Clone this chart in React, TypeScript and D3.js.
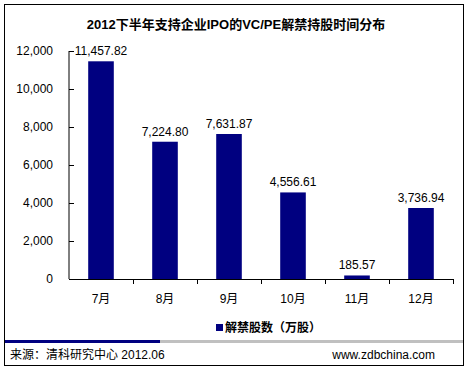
import React from 'react';
import { scaleBand, scaleLinear, format } from 'd3';

const months = ['7月', '8月', '9月', '10月', '11月', '12月'];
const values = [11457.82, 7224.8, 7631.87, 4556.61, 185.57, 3736.94];
const yTicks = [0, 2000, 4000, 6000, 8000, 10000, 12000];

const title = '2012下半年支持企业IPO的VC/PE解禁持股时间分布';
const legendLabel = '解禁股数（万股）';
const sourceText = '来源：清科研究中心 2012.06';
const siteText = 'www.zdbchina.com';

const W = 469;
const H = 369;
const font = 'Arial, "Liberation Sans", "Noto Sans CJK SC", sans-serif';
const navy = '#000080';

const App = () => {
  const left = 69;
  const right = 453;
  const top = 51;
  const bottom = 279;

  const x = scaleBand<string>().domain(months).range([left, right]).paddingInner(0.6).paddingOuter(0.3);
  const y = scaleLinear().domain([0, 12000]).range([bottom, top]);
  const fmtTick = format(',');
  const fmtVal = format(',.2f');
  const step = x.step();
  // category boundaries for the x ticks
  const bounds = months.map((_, i) => left + step * (i + 1));

  return (
    <svg width={W} height={H} style={{ position: 'absolute', left: 0, top: 0 }} fontFamily={font}>
      <rect x={0} y={0} width={W} height={H} fill="#fff" />
      <rect x={4.5} y={4.5} width={459} height={361} fill="none" stroke="#000" strokeWidth={1} />

      <text x={236} y={29} textAnchor="middle" fontSize={13} fontWeight="bold" fill="#000">
        {title}
      </text>

      {/* y axis */}
      <line x1={left} x2={left} y1={y(12000)} y2={bottom} stroke="#000" />
      {yTicks.map((t) => (
        <g key={t}>
          <line x1={left} x2={left + 5} y1={Math.round(y(t)) + 0.5} y2={Math.round(y(t)) + 0.5} stroke="#000" />
          <text x={53} y={y(t)} dy="0.35em" textAnchor="end" fontSize={12} fill="#000">
            {fmtTick(t)}
          </text>
        </g>
      ))}

      {/* bars */}
      {months.map((m, i) => (
        <g key={m}>
          <rect x={x(m)} y={y(values[i])} width={x.bandwidth()} height={bottom - y(values[i])} fill={navy} />
          <text x={(x(m) ?? 0) + x.bandwidth() / 2} y={y(values[i]) - 6} textAnchor="middle" fontSize={12} fill="#000">
            {fmtVal(values[i])}
          </text>
          <text x={left + step * (i + 0.5)} y={299} dy="0.35em" textAnchor="middle" fontSize={12} fill="#000">
            {m}
          </text>
        </g>
      ))}

      {/* x axis */}
      <line x1={left} x2={right} y1={bottom + 0.5} y2={bottom + 0.5} stroke="#000" />
      {bounds.map((b, i) => (
        <line key={i} x1={Math.round(b) + 0.5} x2={Math.round(b) + 0.5} y1={bottom} y2={bottom + 5} stroke="#000" />
      ))}

      {/* legend */}
      <rect x={216} y={324} width={7} height={7} fill={navy} />
      <text x={225} y={328} dy="0.35em" fontSize={12} fontWeight="bold" fill="#000">
        {legendLabel}
      </text>

      {/* footer */}
      <rect x={5} y={340} width={155} height={3} fill={navy} />
      <rect x={160} y={340} width={303} height={3} fill="#c0c0c0" />
      <text x={10} y={355} dy="0.35em" fontSize={12} fill="#000">
        {sourceText}
      </text>
      <text x={435} y={355} dy="0.35em" textAnchor="end" fontSize={12} fill="#000">
        {siteText}
      </text>
    </svg>
  );
};

export default App;
